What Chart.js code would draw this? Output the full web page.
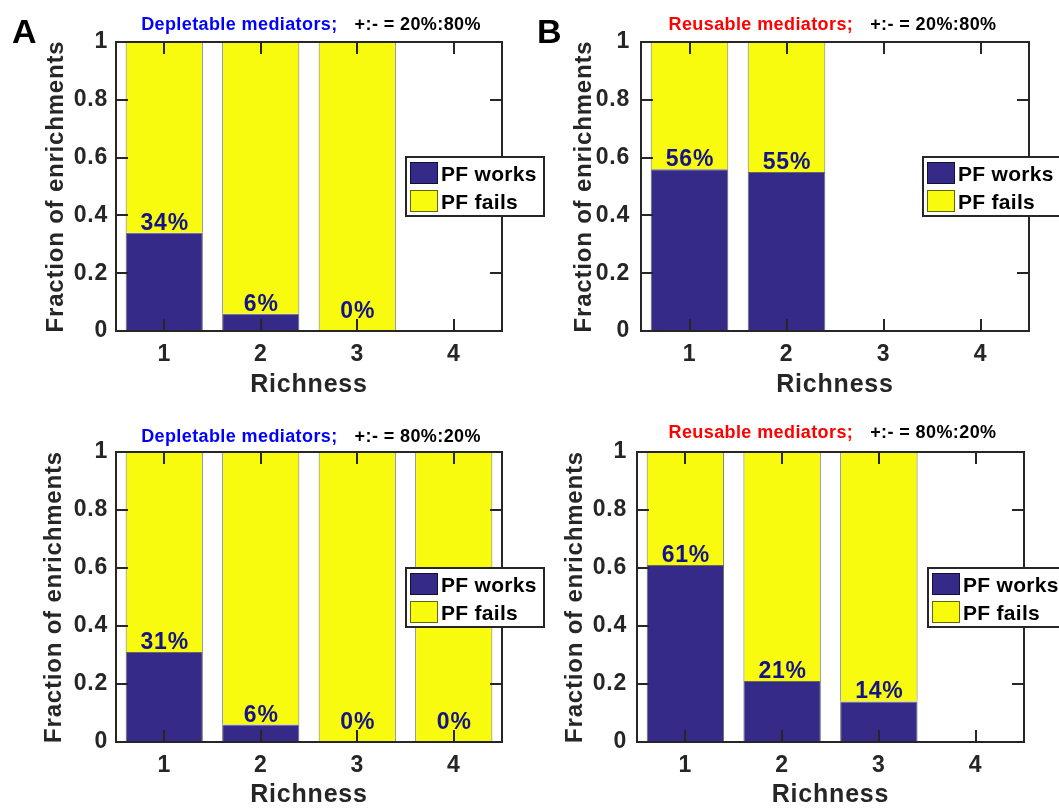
<!DOCTYPE html>
<html>
<head>
<meta charset="utf-8">
<script src="https://cdn.jsdelivr.net/npm/chart.js@4.4.1/dist/chart.umd.min.js"></script>
<style>
  html, body { margin: 0; padding: 0; background: #ffffff; width: 1059px; height: 808px; overflow: hidden; position: relative; }
  canvas { position: absolute; }
</style>
</head>
<body>
<canvas id="depletable2080"></canvas>
<canvas id="reusable2080"></canvas>
<canvas id="depletable8020"></canvas>
<canvas id="reusable8020"></canvas>
<script>
// ---- data ----
const richness = ['1', '2', '3', '4'];
const yTickValues = [0, 0.2, 0.4, 0.6, 0.8, 1];
const seriesNames = ['PF works', 'PF fails'];

// fraction of enrichments, per richness (null = no enrichment at that richness)
const depletable2080Works = [0.34, 0.06, 0, null];
const depletable2080Fails = [0.66, 0.94, 1, null];
const reusable2080Works = [0.56, 0.55, null, null];
const reusable2080Fails = [0.44, 0.45, null, null];
const depletable8020Works = [0.31, 0.06, 0, 0];
const depletable8020Fails = [0.69, 0.94, 1, 1];
const reusable8020Works = [0.61, 0.21, 0.14, null];
const reusable8020Fails = [0.39, 0.79, 0.86, null];

// ---- styling ----
const FONT = '"Liberation Sans", Arial, Helvetica, sans-serif';
const AXIS_COLOR = '#262626';
const WORKS_COLOR = '#352a87';
const FAILS_COLOR = '#f9fb0e';
const LABEL_COLOR = '#14148a';

const panels = [
  { id: 'depletable2080', letter: 'A', kind: 'Depletable mediators;', kindColor: '#0000ff', ratio: '+:- = 20%:80%',
    works: depletable2080Works, fails: depletable2080Fails,
    box: { left: 0, top: 0, width: 560, height: 400 },
    pad: { left: 38, right: 58, top: 42, bottom: 0 }, yWidth: 78, xHeight: 69, yTickPad: 8,
    legendDx: -96, titleX: 311, titleY: 30, letterX: 12, letterY: 43 },
  { id: 'reusable2080', letter: 'B', kind: 'Reusable mediators;', kindColor: '#ff0000', ratio: '+:- = 20%:80%',
    works: reusable2080Works, fails: reusable2080Fails,
    box: { left: 530, top: 0, width: 529, height: 400 },
    pad: { left: 36, right: 30, top: 42, bottom: 0 }, yWidth: 75, xHeight: 69, yTickPad: 11,
    legendDx: -106, titleX: 302.5, titleY: 30, letterX: 7, letterY: 43 },
  { id: 'depletable8020', letter: '', kind: 'Depletable mediators;', kindColor: '#0000ff', ratio: '+:- = 80%:20%',
    works: depletable8020Works, fails: depletable8020Fails,
    box: { left: 0, top: 400, width: 560, height: 412 },
    pad: { left: 36, right: 58, top: 52, bottom: 2 }, yWidth: 80, xHeight: 68, yTickPad: 8,
    legendDx: -96, titleX: 311, titleY: 42 },
  { id: 'reusable8020', letter: '', kind: 'Reusable mediators;', kindColor: '#ff0000', ratio: '+:- = 80%:20%',
    works: reusable8020Works, fails: reusable8020Fails,
    box: { left: 530, top: 400, width: 529, height: 412 },
    pad: { left: 27, right: 35, top: 52, bottom: 2 }, yWidth: 80, xHeight: 68, yTickPad: 10,
    legendDx: -96, titleX: 302.5, titleY: 38 }
];

// MATLAB-style axes box, inward ticks, value labels, legend and panel headings
const decorations = {
  id: 'decorations',
  beforeDraw(chart) {
    chart.ctx.letterSpacing = '0.8px';
  },
  afterDraw(chart, args, opts) {
    const p = opts.panel;
    const ctx = chart.ctx;
    const a = chart.chartArea;
    const xs = chart.scales.x, ys = chart.scales.y;
    const TICK = 12;

    ctx.save();
    // inward tick marks on all four sides
    ctx.strokeStyle = AXIS_COLOR;
    ctx.lineWidth = 2;
    ctx.beginPath();
    xs.ticks.forEach((t, i) => {
      const x = Math.round(xs.getPixelForTick(i));
      ctx.moveTo(x, a.top); ctx.lineTo(x, a.top + TICK);
      ctx.moveTo(x, a.bottom); ctx.lineTo(x, a.bottom - TICK);
    });
    ys.ticks.forEach(t => {
      const y = Math.round(ys.getPixelForValue(t.value));
      ctx.moveTo(a.left, y); ctx.lineTo(a.left + TICK, y);
      ctx.moveTo(a.right, y); ctx.lineTo(a.right - TICK, y);
    });
    ctx.stroke();
    // axes box
    ctx.strokeRect(a.left, a.top, a.right - a.left, a.bottom - a.top);

    // percentage labels above the "PF works" segment
    const meta = chart.getDatasetMeta(0);
    ctx.font = 'bold 23px ' + FONT;
    ctx.letterSpacing = '0.8px';
    ctx.fillStyle = LABEL_COLOR;
    ctx.textAlign = 'center';
    ctx.textBaseline = 'alphabetic';
    p.works.forEach((v, i) => {
      if (v === null) return;
      const bar = meta.data[i];
      const y = ys.getPixelForValue(Math.max(v, 0.035)) - 3;
      ctx.fillText(Math.round(v * 100) + '%', bar.x + 0.5, y);
    });

    // legend
    const lw = 138, lh = 59;
    const lx = a.right + p.legendDx;
    const ly = Math.round((a.top + a.bottom) / 2 - lh / 2);
    ctx.fillStyle = '#ffffff';
    ctx.fillRect(lx, ly, lw, lh);
    ctx.strokeStyle = AXIS_COLOR;
    ctx.lineWidth = 2;
    ctx.strokeRect(lx, ly, lw, lh);
    ctx.font = 'bold 21px ' + FONT;
    ctx.letterSpacing = '0.3px';
    ctx.textAlign = 'left';
    chart.data.datasets.forEach((ds, k) => {
      const sy = ly + 5 + k * 28;
      ctx.fillStyle = ds.backgroundColor;
      ctx.fillRect(lx + 4, sy, 28, 22);
      ctx.strokeStyle = 'rgba(0,0,0,0.6)';
      ctx.lineWidth = 1;
      ctx.strokeRect(lx + 4.5, sy + 0.5, 27, 21);
      ctx.fillStyle = '#000000';
      ctx.fillText(ds.label, lx + 35, sy + 19);
    });

    // panel heading: coloured mediator type followed by the +:- ratio
    ctx.font = 'bold 18px ' + FONT;
    ctx.letterSpacing = '0.4px';
    const gap = 17;
    const w1 = ctx.measureText(p.kind).width;
    const w2 = ctx.measureText(p.ratio).width;
    const x0 = p.titleX - (w1 + gap + w2) / 2;
    ctx.fillStyle = p.kindColor;
    ctx.fillText(p.kind, x0, p.titleY);
    ctx.fillStyle = '#000000';
    ctx.fillText(p.ratio, x0 + w1 + gap, p.titleY);

    // panel letter
    if (p.letter) {
      ctx.font = 'bold 34px ' + FONT;
      ctx.letterSpacing = '0px';
      ctx.fillText(p.letter, p.letterX, p.letterY);
    }
    ctx.restore();
  }
};

panels.forEach(p => {
  const canvas = document.getElementById(p.id);
  canvas.width = p.box.width;
  canvas.height = p.box.height;
  canvas.style.left = p.box.left + 'px';
  canvas.style.top = p.box.top + 'px';

  new Chart(canvas, {
    type: 'bar',
    data: {
      labels: richness,
      datasets: [
        { label: seriesNames[0], data: p.works, backgroundColor: WORKS_COLOR,
          borderColor: 'rgba(0,0,0,0.6)', borderWidth: 1,
          categoryPercentage: 0.8, barPercentage: 1.0 },
        { label: seriesNames[1], data: p.fails, backgroundColor: FAILS_COLOR,
          borderColor: 'rgba(0,0,0,0.55)', borderWidth: 1,
          categoryPercentage: 0.8, barPercentage: 1.0 }
      ]
    },
    options: {
      responsive: false,
      animation: false,
      devicePixelRatio: 1,
      layout: { padding: p.pad },
      plugins: {
        legend: { display: false },
        tooltip: { enabled: false },
        title: { display: false },
        decorations: { panel: p }
      },
      scales: {
        x: {
          stacked: true,
          grid: { display: false, drawTicks: false },
          border: { display: false },
          ticks: { color: AXIS_COLOR, font: { family: FONT, size: 23, weight: 'bold' },
                   padding: 10, maxRotation: 0, autoSkip: false },
          title: { display: true, text: 'Richness', color: AXIS_COLOR,
                   font: { family: FONT, size: 25, weight: 'bold' }, padding: { top: 0, bottom: 0 } },
          afterFit(scale) { scale.height = p.xHeight; }
        },
        y: {
          stacked: true,
          min: 0,
          max: 1,
          grid: { display: false, drawTicks: false },
          border: { display: false },
          afterBuildTicks(scale) { scale.ticks = yTickValues.map(v => ({ value: v })); },
          ticks: { color: AXIS_COLOR, font: { family: FONT, size: 23, weight: 'bold' },
                   padding: p.yTickPad, callback: v => String(v) },
          title: { display: true, text: 'Fraction of enrichments', color: AXIS_COLOR,
                   font: { family: FONT, size: 24, weight: 'bold' }, padding: { top: 4, bottom: 0 } },
          afterFit(scale) { scale.width = p.yWidth; }
        }
      }
    },
    plugins: [decorations]
  });
});
</script>
</body>
</html>
